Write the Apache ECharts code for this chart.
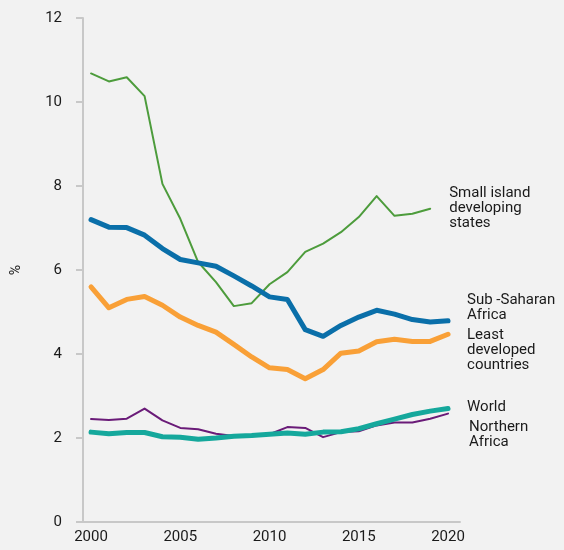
<!DOCTYPE html>
<html>
<head>
<meta charset="utf-8">
<script src="https://cdn.jsdelivr.net/npm/echarts@6/dist/echarts.min.js"></script>
<style>
  html, body { margin: 0; padding: 0; background: #f2f2f2; }
  #chart { width: 564px; height: 550px; }
</style>
</head>
<body>
<div id="chart"></div>
<script>
// Years on the horizontal axis
const years = [2000, 2001, 2002, 2003, 2004, 2005, 2006, 2007, 2008, 2009, 2010,
               2011, 2012, 2013, 2014, 2015, 2016, 2017, 2018, 2019, 2020];
const xTicks = [2000, 2005, 2010, 2015, 2020];

// Series values (%)
const smallIsland = [10.68, 10.49, 10.59, 10.14, 8.05, 7.22, 6.19, 5.71, 5.14, 5.21, 5.66,
                     5.95, 6.43, 6.63, 6.90, 7.26, 7.76, 7.29, 7.34, 7.46];
const subSaharan  = [7.20, 7.02, 7.01, 6.83, 6.51, 6.25, 6.17, 6.09, 5.86, 5.62, 5.36,
                     5.30, 4.58, 4.42, 4.68, 4.88, 5.04, 4.95, 4.82, 4.76, 4.79];
const leastDev    = [5.60, 5.10, 5.30, 5.37, 5.16, 4.88, 4.68, 4.52, 4.23, 3.93, 3.67,
                     3.63, 3.41, 3.63, 4.02, 4.07, 4.29, 4.35, 4.30, 4.30, 4.47];
const world       = [2.14, 2.10, 2.13, 2.13, 2.03, 2.02, 1.97, 2.00, 2.04, 2.06, 2.09,
                     2.12, 2.09, 2.14, 2.15, 2.22, 2.34, 2.45, 2.56, 2.64, 2.70];
const northAfrica = [2.45, 2.43, 2.46, 2.70, 2.42, 2.24, 2.21, 2.10, 2.05, 2.04, 2.09,
                     2.26, 2.24, 2.02, 2.14, 2.16, 2.30, 2.37, 2.37, 2.46, 2.58];

const FONT = 'Roboto, "Liberation Sans", sans-serif';

function pairs(vals) {
  return vals.map((v, i) => [years[i], v]);
}

function lineSeries(name, vals, color, width, label, offset) {
  return {
    name: name,
    type: 'line',
    data: pairs(vals),
    symbol: 'none',
    lineStyle: { color: color, width: width, cap: 'round', join: 'round' },
    itemStyle: { color: color },
    z: width > 3 ? 3 : 2,
    endLabel: {
      show: true,
      formatter: label,
      color: '#1a1a1a',
      fontFamily: FONT,
      fontSize: 15,
      lineHeight: 15,
      align: 'left',
      verticalAlign: 'middle',
      distance: 0,
      offset: offset
    }
  };
}

const chart = echarts.init(document.getElementById('chart'), null, { renderer: 'canvas' });

chart.setOption({
  backgroundColor: '#f2f2f2',
  animation: false,
  grid: { left: 83, right: 104, top: 18, bottom: 28 },
  xAxis: {
    type: 'value',
    min: 1999.55,
    max: 2020.67,
    axisLine: { show: true, lineStyle: { color: '#c8c8c8', width: 2 } },
    axisTick: { show: false },
    splitLine: { show: false },
    axisLabel: {
      customValues: xTicks,
      formatter: (v) => String(Math.round(v)),
      color: '#1a1a1a',
      fontFamily: FONT,
      fontSize: 15,
      margin: 8
    }
  },
  yAxis: {
    type: 'value',
    min: 0,
    max: 12,
    interval: 2,
    name: '%',
    nameLocation: 'middle',
    nameRotate: 90,
    nameGap: 60,
    nameTextStyle: { color: '#1a1a1a', fontFamily: FONT, fontSize: 14 },
    axisLine: { show: true, lineStyle: { color: '#c8c8c8', width: 2 } },
    axisTick: { show: true, length: 7, lineStyle: { color: '#c8c8c8', width: 2 } },
    splitLine: { show: false },
    axisLabel: {
      color: '#1a1a1a',
      fontFamily: FONT,
      fontSize: 15,
      margin: 21
    }
  },
  series: [
    lineSeries('Small island developing states', smallIsland, '#4d9c3c', 2,
               'Small island\ndeveloping\nstates', [19, 0]),
    lineSeries('Least developed countries', leastDev, '#f9a037', 5,
               'Least\ndeveloped\ncountries', [19, 16]),
    lineSeries('Sub-Saharan Africa', subSaharan, '#0a6fa9', 5,
               'Sub -Saharan\nAfrica', [19, -13]),
    lineSeries('Northern Africa', northAfrica, '#6a1b78', 2,
               'Northern\nAfrica', [21, 21]),
    lineSeries('World', world, '#15a89c', 5,
               'World', [19, -1])
  ]
});
</script>
</body>
</html>
